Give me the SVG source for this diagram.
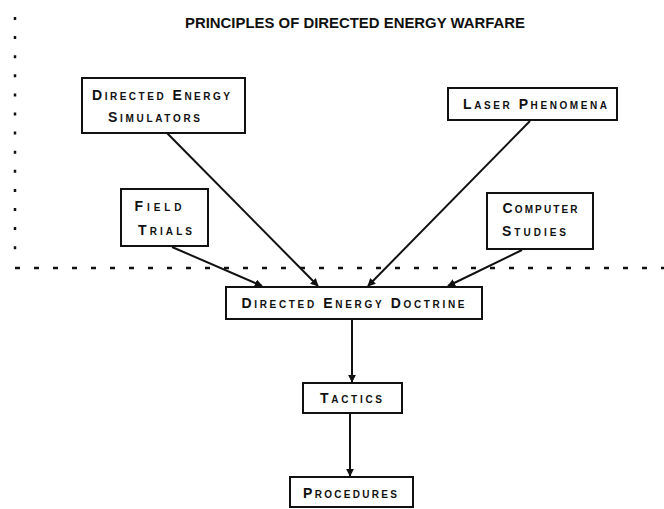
<svg xmlns="http://www.w3.org/2000/svg" width="664" height="509" viewBox="0 0 664 509">
<style>
.box{fill:#fff;stroke:#111;stroke-width:2}
.t{font-family:"Liberation Sans",Arial,sans-serif;font-weight:bold;font-size:14px;font-variant:small-caps;fill:#111;text-anchor:middle}
.c{stroke:#111;stroke-width:2;fill:none}
.dot{stroke:#111;stroke-width:2.5;fill:none}
</style>
<defs>
<marker id="ah" viewBox="0 0 10 10" refX="9" refY="5" markerWidth="4" markerHeight="4" orient="auto" markerUnits="strokeWidth">
<path d="M0,0 L10,5 L0,10 z" fill="#111"/>
</marker>
</defs>
<rect width="664" height="509" fill="#fff"/>
<g id="boundary">
<path class="dot" d="M15,17 V262" stroke-dasharray="3 16.1"/>
<path class="dot" d="M15,268 H664" stroke-dasharray="5 14"/>
</g>
<text x="355" y="28" font-family="'Liberation Sans',Arial,sans-serif" font-weight="bold" font-size="15" fill="#111" text-anchor="middle" textLength="340" lengthAdjust="spacingAndGlyphs">PRINCIPLES OF DIRECTED ENERGY WARFARE</text>
<g id="connectors">
<line class="c" x1="167" y1="133" x2="318" y2="286" marker-end="url(#ah)"/>
<line class="c" x1="530" y1="121" x2="368" y2="286" marker-end="url(#ah)"/>
<line class="c" x1="172" y1="247" x2="262" y2="286" marker-end="url(#ah)"/>
<line class="c" x1="522" y1="250" x2="448" y2="286" marker-end="url(#ah)"/>
<line class="c" x1="352" y1="320" x2="352" y2="382" marker-end="url(#ah)"/>
<line class="c" x1="350" y1="414" x2="350" y2="476" marker-end="url(#ah)"/>
</g>
<g id="simulators">
<rect class="box" x="82" y="78" width="163" height="55"/>
<text class="t" x="161" y="100" textLength="138" lengthAdjust="spacing">Directed Energy</text>
<text class="t" x="154" y="122" textLength="92" lengthAdjust="spacing">Simulators</text>
</g>
<g id="laser">
<rect class="box" x="448" y="88" width="169" height="32"/>
<text class="t" x="535" y="109" textLength="144" lengthAdjust="spacing">Laser Phenomena</text>
</g>
<g id="field">
<rect class="box" x="121" y="189" width="87" height="57"/>
<text class="t" x="158" y="211" textLength="47" lengthAdjust="spacing">Field</text>
<text class="t" x="165" y="235" textLength="54" lengthAdjust="spacing">Trials</text>
</g>
<g id="computer">
<rect class="box" x="487" y="193" width="106" height="56"/>
<text class="t" x="540" y="213" textLength="75" lengthAdjust="spacing">Computer</text>
<text class="t" x="534" y="236" textLength="64" lengthAdjust="spacing">Studies</text>
</g>
<g id="doctrine">
<rect class="box" x="226" y="287" width="256" height="32"/>
<text class="t" x="353" y="308" textLength="223" lengthAdjust="spacing">Directed Energy Doctrine</text>
</g>
<g id="tactics">
<rect class="box" x="303" y="383" width="99" height="30"/>
<text class="t" x="351" y="403" textLength="62" lengthAdjust="spacing">Tactics</text>
</g>
<g id="procedures">
<rect class="box" x="290" y="477" width="123" height="30"/>
<text class="t" x="350" y="498" textLength="94" lengthAdjust="spacing">Procedures</text>
</g>
</svg>
